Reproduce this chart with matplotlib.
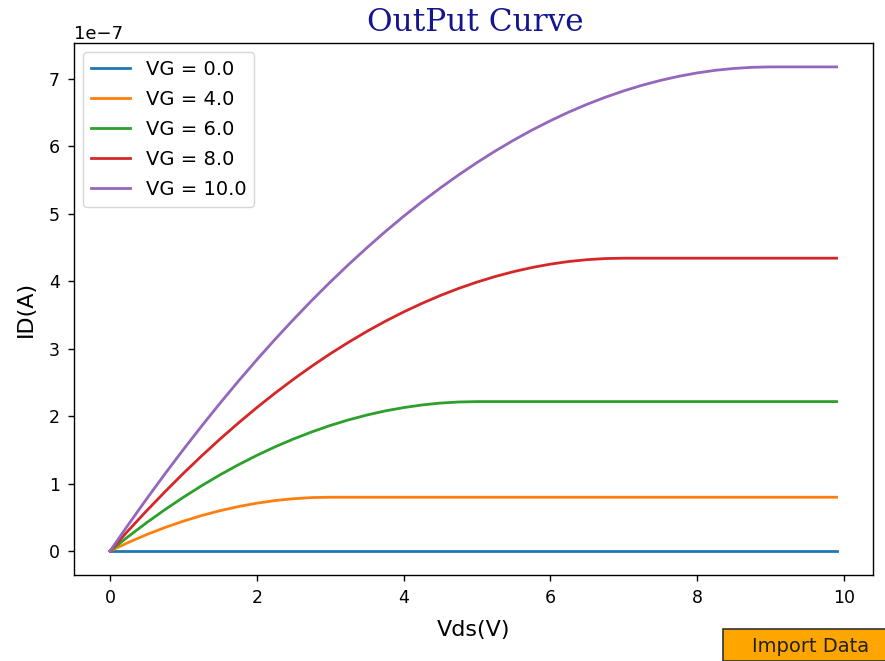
import matplotlib
matplotlib.use("Agg")
import matplotlib.pyplot as plt
import numpy as np

# Drain-source voltage samples (V)
vds = [0.0, 0.25, 0.5, 0.75, 1.0, 1.25, 1.5, 1.75, 2.0, 2.25, 2.5, 2.75, 3.0,
       3.25, 3.5, 3.75, 4.0, 4.25, 4.5, 4.75, 5.0, 5.25, 5.5, 5.75, 6.0, 6.25,
       6.5, 6.75, 7.0, 7.25, 7.5, 7.75, 8.0, 8.25, 8.5, 8.75, 9.0, 9.25, 9.5,
       9.75, 9.9]

# Drain current values in units of 1e-7 A
id_vg0 = [0.0] * 41
id_vg4 = [0.0, 0.127, 0.244, 0.349, 0.443, 0.526, 0.598, 0.659, 0.709, 0.748,
          0.775, 0.792, 0.797] + [0.797] * 28
id_vg6 = [0.0, 0.216, 0.421, 0.615, 0.797, 0.969, 1.130, 1.279, 1.418, 1.545,
          1.661, 1.766, 1.861, 1.944, 2.016, 2.077, 2.126, 2.165, 2.193, 2.209,
          2.215] + [2.215] * 20
id_vg8 = [0.0, 0.305, 0.598, 0.880, 1.152, 1.412, 1.661, 1.899, 2.126, 2.342,
          2.547, 2.741, 2.924, 3.095, 3.256, 3.406, 3.544, 3.671, 3.788, 3.893,
          3.987, 4.070, 4.142, 4.203, 4.253, 4.292, 4.319, 4.336, 4.341] + [4.341] * 12
id_vg10 = [0.0, 0.393, 0.775, 1.146, 1.506, 1.855, 2.193, 2.520, 2.835, 3.140,
           3.433, 3.716, 3.987, 4.247, 4.496, 4.735, 4.962, 5.178, 5.382, 5.576,
           5.759, 5.931, 6.091, 6.241, 6.379, 6.507, 6.623, 6.728, 6.822, 6.905,
           6.977, 7.038, 7.088, 7.127, 7.154, 7.171, 7.177, 7.177, 7.177, 7.177, 7.177]

labels = ["VG = 0.0", "VG = 4.0", "VG = 6.0", "VG = 8.0", "VG = 10.0"]
series = [id_vg0, id_vg4, id_vg6, id_vg8, id_vg10]

fig = plt.figure(figsize=(8.85, 6.61), dpi=100)
ax = fig.add_axes([0.0833, 0.1298, 0.9031, 0.8056])

for lab, s in zip(labels, series):
    ax.plot(vds, np.array(s) * 1e-7, label=lab, linewidth=2.0)

ax.set_xlabel("Vds(V)", fontsize=16, labelpad=9)
ax.set_ylabel("ID(A)", fontsize=16, labelpad=9)
ax.set_xticks([0, 2, 4, 6, 8, 10])
ax.tick_params(labelsize=12.5, length=4.5, width=1.0, pad=5.5)
for sp in ax.spines.values():
    sp.set_linewidth(1.0)
ax.yaxis.get_offset_text().set_fontsize(13)
ax.legend(loc="upper left", fontsize=14, labelspacing=0.56)

fig.text(0.537, 0.966, "OutPut Curve", family="DejaVu Serif", fontsize=22.5,
         color="#15158f", ha="center", va="center")

# "Import Data" button
fig.patches.append(matplotlib.patches.Rectangle((723 / 885, 0), 1 - 723 / 885 + 0.01,
                                                (661 - 629) / 661,
                                                transform=fig.transFigure,
                                                facecolor="#ffa500", edgecolor="#333333",
                                                linewidth=1.2, figure=fig))
fig.text(811 / 885, 1 - 646 / 661, "Import Data", fontsize=14, color="#222222",
         ha="center", va="center")

fig.savefig("out.png", dpi=100)
